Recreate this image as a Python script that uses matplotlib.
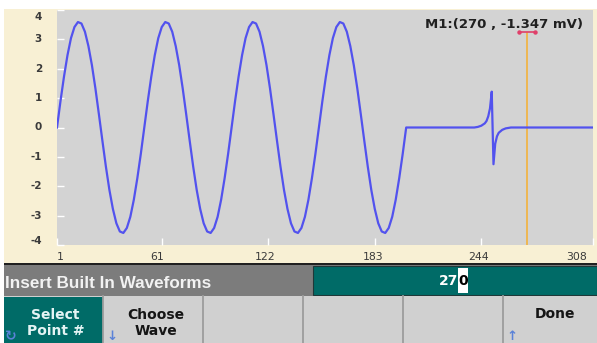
import matplotlib
matplotlib.use("Agg")
import matplotlib.pyplot as plt
from matplotlib.patches import Rectangle

# ---------------- data ----------------
# one sine cycle read from the screen (every 2nd point, 25 samples / cycle)
cycle_vals = [0.00, 0.90, 1.73, 2.46, 3.04, 3.42, 3.59, 3.54, 3.26, 2.77, 2.12, 1.33, 0.45,
              -0.45, -1.33, -2.12, -2.77, -3.26, -3.54, -3.59, -3.42, -3.04, -2.46, -1.73, -0.90]
sine_x = list(range(1, 202, 2))
sine_y = cycle_vals * 4 + [0.00]

tail_x = [240, 242, 244, 246, 247, 248, 249, 250, 251, 252, 253, 254, 256, 258, 261, 308]
tail_y = [0.00, 0.02, 0.06, 0.14, 0.22, 0.38, 0.65, 1.22, -1.25, -0.55, -0.30, -0.18, -0.08, -0.03, 0.00, 0.00]

wave_x = sine_x + tail_x
wave_y = sine_y + tail_y

x_ticks = [1, 61, 122, 183, 244, 308]
x_tick_labels = ["1", "61", "122", "183", "244", "308"]
y_ticks = [4, 3, 2, 1, 0, -1, -2, -3, -4]
y_tick_labels = ["4", "3", "2", "1", "0", "-1", "-2", "-3", "-4"]

marker_x = 270
marker_label = "M1:(270 , -1.347 mV)"
entry_value = "270"
status_title = "Insert Built In Waveforms"
softkeys = [("Select\nPoint #", True), ("Choose\nWave", False), ("", False),
            ("", False), ("", False), ("Done", False)]

# ---------------- styling ----------------
W, H = 597, 343
BEIGE = "#f8f0d4"
PLOTBG = "#d3d3d3"
WAVE = "#5252ee"
ORANGE = "#f0b448"
TEAL = "#006b67"
BAR = "#7c7c7c"
KEYBG = "#d0d0d0"
ICON = "#5a82d8"

fig = plt.figure(figsize=(W / 100, H / 100), dpi=100)
fig.patch.set_facecolor("white")

bg = fig.add_axes([0, 0, 1, 1], zorder=0)
bg.set_xlim(0, W)
bg.set_ylim(H, 0)
bg.axis("off")


def rect(x0, y0, x1, y1, color, **kw):
    bg.add_patch(Rectangle((x0, y0), x1 - x0, y1 - y0, facecolor=color,
                           edgecolor=kw.pop("edgecolor", "none"), lw=kw.pop("lw", 0), **kw))


rect(4, 9, W, 263, BEIGE)
rect(4, 263, W, 265, "#202020")
rect(4, 265, W, 295.5, BAR)
rect(313, 265.5, W, 294.5, TEAL, edgecolor="#203838", lw=0.8)
rect(4, 295.5, W, H, KEYBG)

# status bar title
bg.text(5, 283, status_title, ha="left", va="center", color="#f2f2f2",
        fontsize=12.3, fontweight="bold", family="Liberation Sans")

# numeric entry with cursor on last digit
rect(458, 268, 468, 293, "white")
bg.text(458, 281, entry_value[:-1], ha="right", va="center", color="white",
        fontsize=10, fontweight="bold", family="DejaVu Sans")
bg.text(463, 281, entry_value[-1], ha="center", va="center", color="black",
        fontsize=10, fontweight="bold", family="DejaVu Sans")

# soft keys
key_w = 100
for i, (label, active) in enumerate(softkeys):
    x0 = 4 + i * key_w if i > 0 else 4
    x1 = 3 + (i + 1) * key_w
    if active:
        rect(x0, 297, x1, H, TEAL)
    if label:
        bg.text((x0 + x1) / 2 + 2, 323 if "\n" in label else 314, label, ha="center", va="center",
                color="#e4f4f4" if active else "#151515", fontsize=10, fontweight="bold",
                family="DejaVu Sans", linespacing=1.1)
for i in range(1, 6):
    bg.plot([3 + i * key_w, 3 + i * key_w], [296, H], color="#9c9c9c", lw=1.3)

bg.text(11, 336, "\u21bb", ha="center", va="center", color=ICON, fontsize=10, fontweight="bold")
bg.text(112, 336, "\u2193", ha="center", va="center", color=ICON, fontsize=9.5, fontweight="bold")
bg.text(512, 336, "\u2191", ha="center", va="center", color=ICON, fontsize=9.5, fontweight="bold")

# ---------------- waveform plot ----------------
L, R, T, B = 57, 593, 10, 245
ax = fig.add_axes([L / W, 1 - B / H, (R - L) / W, (B - T) / H], zorder=2)
ax.set_facecolor(PLOTBG)
ax.set_xlim(1, 308)
ax.set_ylim(-4, 4)
for s in ax.spines.values():
    s.set_visible(False)

ax.plot(wave_x, wave_y, color=WAVE, lw=1.6, solid_joinstyle="round", zorder=3)

ax.set_xticks(x_ticks)
ax.set_yticks(y_ticks)
ax.set_xticklabels([])
ax.set_yticklabels([])
ax.tick_params(direction="in", length=5, width=1, color="white")

y_offsets = {4: -7, -4: 4}
for v, lab in zip(y_ticks, y_tick_labels):
    ax.annotate(lab, xy=(0, v), xycoords=("axes fraction", "data"),
                xytext=(-15, y_offsets.get(v, 0)), textcoords="offset pixels",
                ha="right", va="center", color="#3a3a3a", fontsize=7.5,
                fontweight="bold", family="DejaVu Sans", annotation_clip=False)

x_offsets = {1: (0, "left"), 61: (-5, "center"), 122: (-3, "center"),
             183: (-2, "center"), 244: (-3, "center"), 308: (-6, "right")}
for v, lab in zip(x_ticks, x_tick_labels):
    dx, ha = x_offsets[v]
    ax.annotate(lab, xy=(v, 0), xycoords=("data", "axes fraction"),
                xytext=(dx, -12), textcoords="offset pixels",
                ha=ha, va="center", color="#3a3a3a", fontsize=7.8,
                family="DejaVu Sans", annotation_clip=False)

# marker cursor
ax.axvline(marker_x, ymin=0, ymax=(B - 33) / (B - T), color=ORANGE, lw=1.3, zorder=2)
ax.plot([marker_x - 4.5, marker_x + 4.5], [3.26, 3.26], color="#e0406a", lw=1.2,
        marker="o", markersize=2.2, zorder=4)
ax.annotate(marker_label, xy=(1, 1), xycoords="axes fraction", xytext=(-10, -15),
            textcoords="offset pixels", ha="right", va="center", color="#202020",
            fontsize=9.5, fontweight="bold", family="DejaVu Sans")

fig.savefig("out.png", dpi=100, facecolor=fig.get_facecolor())
